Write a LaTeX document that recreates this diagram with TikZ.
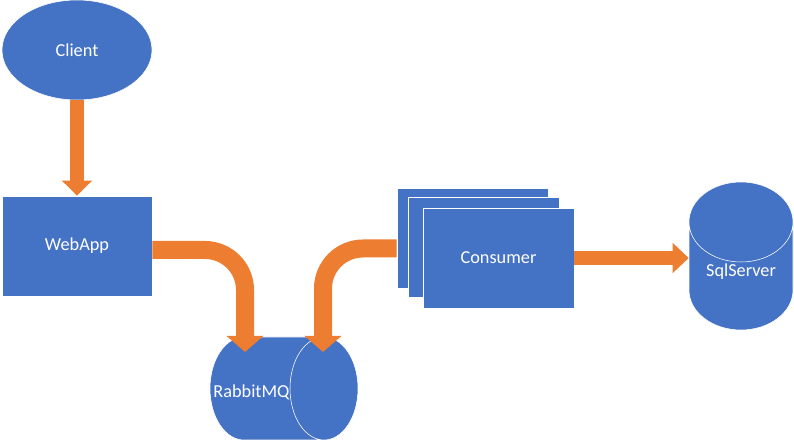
\documentclass[tikz,border=0pt]{standalone}
\usepackage{fontspec}
\setmainfont{Carlito}
\usetikzlibrary{arrows.meta, calc, positioning, shapes.geometric}
\definecolor{mainBlue}{HTML}{4472C4}
\definecolor{mainOrange}{HTML}{ED7D31}

\begin{document}
\begin{tikzpicture}[scale=1.0,
    block/.style={fill=mainBlue, draw=white, line width=0.4pt, text=white, font=\fontsize{13}{15}\selectfont, inner sep=0pt},
    drum/.style={block, cylinder, anchor=shape center, text height=0.2cm, text depth=0.2cm, aspect=4.25},
    flow/.style={draw=mainOrange, line width=#1},
    ]
    \useasboundingbox (0,0) rectangle (19.85,11.025);

    \node[block, ellipse, minimum width=3.75cm, minimum height=2.5cm] (client) at (1.925,9.775) {Client};
    \node[block, rectangle, minimum width=3.75cm, minimum height=2.5cm] (webapp) at (1.925,4.875) {WebApp};
    \node[drum, minimum height=3.7cm, minimum width=2.575cm] (rabbit) at (7.1,1.3125) {};
    \node[text=white, font=\fontsize{13}{15}\selectfont, inner sep=0pt] (rabbitText) at ($(rabbit.shape center)+(-0.8125,-0.0875)$) {RabbitMQ};
    \node[drum, shape border rotate=90, text width=2cm, text height=0.1cm, text depth=0.1cm, align=center, aspect=1.0, minimum width=2.6cm, minimum height=3.7cm] (sqlserver) at (18.525,4.625) {SqlServer};

    % consumer stack, back to front
    \node[block, rectangle, minimum width=3.775cm, minimum height=2.5cm] (consumerBack) at (11.8125,5.0625) {};
    \node[block, rectangle, minimum width=3.775cm, minimum height=2.5cm] (consumerMid) at (12.1,4.8375) {};
    \node[block, rectangle, minimum width=3.775cm, minimum height=2.5cm] (consumer) at (12.4625,4.575) {Consumer};

    \coordinate (rabbitLeft) at ($(rabbit.shape center)+(-0.975,0.9125)$);
    \coordinate (rabbitRight) at ($(rabbit.shape center)+(0.975,0.9125)$);

    \draw[flow=0.33cm, -{Triangle[width=0.73cm, length=0.375cm]}] (client.south) -- (webapp.north);
    \draw[flow=0.45cm, -{Triangle[width=0.9cm, length=0.4cm]}, rounded corners=1cm] ($(webapp.east)+(0,-0.1)$) -| (rabbitLeft);
    \draw[flow=0.45cm, -{Triangle[width=0.9cm, length=0.4cm]}, rounded corners=1cm] ($(consumerBack.west)+(0,-0.25)$) -| (rabbitRight);
    \draw[flow=0.35cm, -{Triangle[width=0.73cm, length=0.4cm]}] (consumer.east) -- (consumer.east -| sqlserver.west);
\end{tikzpicture}
\end{document}
